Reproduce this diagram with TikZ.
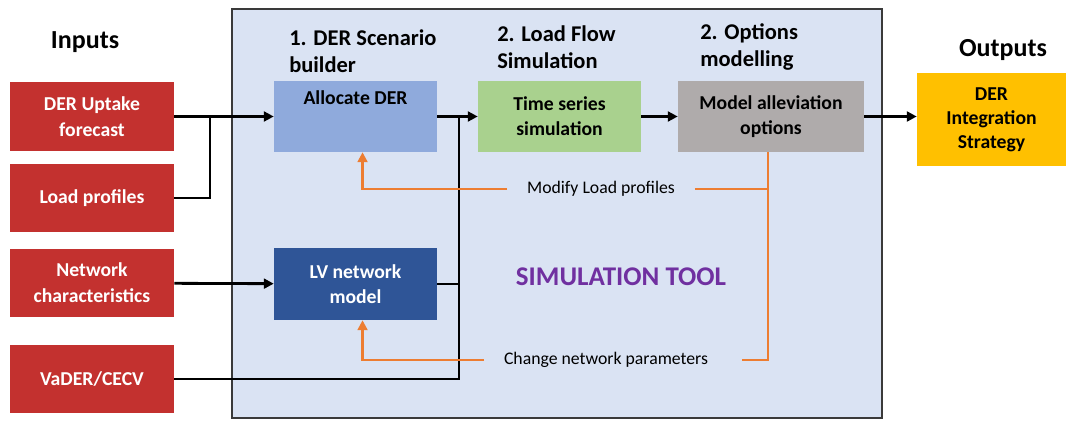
\documentclass[tikz,border=0pt]{standalone}
\usepackage{fontspec}
\setmainfont{Carlito}
\usetikzlibrary{arrows.meta,positioning}

\definecolor{inred}{HTML}{C3312F}
\definecolor{panelblue}{HTML}{DAE3F3}
\definecolor{panelline}{HTML}{3A3A3A}
\definecolor{allocblue}{HTML}{8FAADC}
\definecolor{tsgreen}{HTML}{A9D18E}
\definecolor{modelgrey}{HTML}{AFABAB}
\definecolor{lvblue}{HTML}{2F5597}
\definecolor{outyellow}{HTML}{FFC000}
\definecolor{fborange}{HTML}{ED7D31}
\definecolor{toolpurple}{HTML}{7030A0}

\tikzset{
  inbox/.style={rectangle, fill=inred, text=white, align=center,
    font=\fontsize{14}{18.5}\selectfont\bfseries,
    minimum width=4.1cm, minimum height=1.72cm, inner sep=2pt},
  procbox/.style={rectangle, align=center,
    font=\fontsize{14}{17.8}\selectfont\bfseries,
    minimum width=4.075cm, minimum height=1.775cm, inner sep=2pt},
  steplabel/.style={anchor=west, align=left, inner sep=0pt,
    font=\fontsize{16}{19.5}\selectfont\bfseries},
  headlabel/.style={font=\fontsize{18.5}{22}\selectfont\bfseries},
  fblabel/.style={font=\fontsize{12.6}{15}\selectfont, inner xsep=14pt},
  flow/.style={line width=2pt, -{Triangle[length=7pt,width=7pt]}},
  tie/.style={line width=2pt},
  feedback/.style={draw=fborange, line width=1.6pt},
}

\begin{document}
\begin{tikzpicture}[x=0.025cm, y=-0.025cm]
\useasboundingbox (0,0) rectangle (1076,420);

% Simulation tool panel
\draw[panelline, fill=panelblue, line width=0.9pt] (232,9) rectangle (882,418);
\node[font=\fontsize{19.2}{22}\selectfont\bfseries, text=toolpurple] (tool) at (621,277) {SIMULATION TOOL};

% Inputs
\node[headlabel] (inputs) at (85,42) {Inputs};
\node[inbox] (uptake) at (92,116.5) {DER Uptake\\forecast};
\node[inbox] (loadprof) at (92,198) {Load profiles};
\node[inbox] (netchar) at (92,283) {Network\\characteristics};
\node[inbox] (vader) at (92,379) {VaDER/CECV};

% Step titles
\node[steplabel] (step1) at (289,51) {1. DER Scenario\\builder};
\node[steplabel] (step2) at (497,47) {2. Load Flow\\Simulation};
\node[steplabel] (step3) at (700,47) {2. Options\\modelling};

% Processing blocks
\node[procbox, fill=allocblue] (alloc) at (355.5,116.5) {};
\node[procbox, below=5pt of alloc.north, minimum width=0pt, minimum height=0pt] (alloctext) {Allocate DER};
\node[procbox, fill=tsgreen] (tseries) at (559.5,116.5) {Time series\\simulation};
\node[procbox, fill=modelgrey, minimum width=4.65cm] (model) at (771,116.5) {Model alleviation\\options};
\node[procbox, fill=lvblue, text=white, minimum height=1.8cm] (lvnet) at (355.5,284) {LV network\\model};

% Outputs
\node[headlabel] (outputs) at (1003,50) {Outputs};
\node[procbox, fill=outyellow, minimum width=3.725cm, minimum height=2.325cm,
  font=\fontsize{14}{17}\selectfont\bfseries] (strategy) at (991.5,119.5) {DER\\Integration\\Strategy};

% Main flow
\coordinate (joinin) at (210,116.5);
\coordinate (joinmid) at (459,116.5);
\draw[flow] (uptake) -- (alloc);
\draw[tie] (loadprof.east) -| (joinin);
\draw[flow] (netchar) -- (lvnet);
\draw[flow] (alloc) -- (tseries);
\draw[tie] (vader.east) -| (joinmid);
\draw[tie] (lvnet.east) -- (lvnet.east -| joinmid);
\draw[flow] (tseries) -- (model);
\draw[flow] (model.east) -- (model.east -| strategy.west);

% Feedback loops
\node[fblabel] (modify) at (601,189) {Modify Load profiles};
\node[fblabel] (change) at (606,360) {Change network parameters};
\coordinate (fbright) at (768,360);
\draw[feedback] (model.south -| fbright) -- (fbright) -- ([xshift=10pt]change.east);
\draw[feedback] (modify.east) -- (modify.east -| fbright);
\draw[feedback, -{Triangle[length=7pt,width=7pt]}] (modify.west) -| ([xshift=5pt]alloc.south);
\draw[feedback, -{Triangle[length=7pt,width=7pt]}] (change.west) -| ([xshift=5pt]lvnet.south);
\end{tikzpicture}
\end{document}
